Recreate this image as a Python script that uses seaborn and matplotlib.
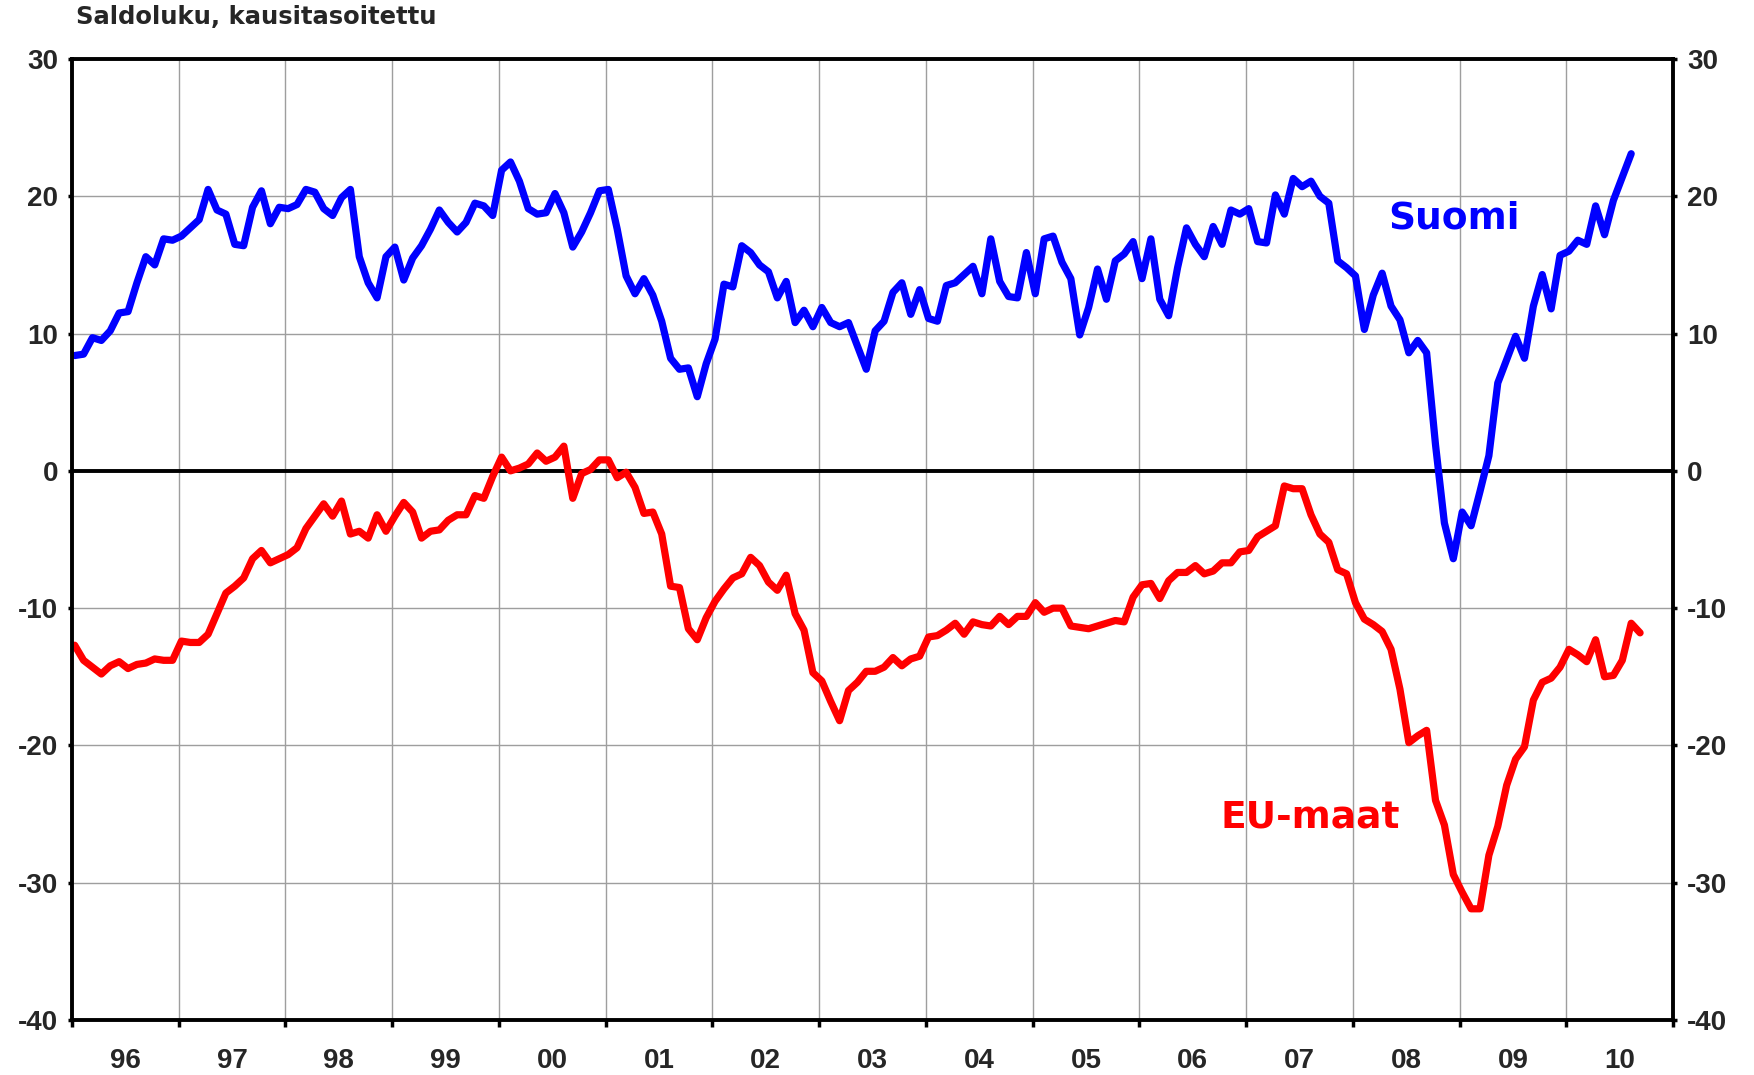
import numpy as np
import pandas as pd
import matplotlib
matplotlib.use("Agg")
from matplotlib import pyplot as plt
from matplotlib.ticker import FixedLocator, NullFormatter
import seaborn as sns

# Monthly balance figures, Jan 1996 onwards
suomi = [
    8.4, 8.5, 9.7, 9.5, 10.2, 11.5, 11.6, 13.7, 15.6, 15.0, 16.9, 16.8,
    17.1, 17.7, 18.3, 20.5, 19.0, 18.7, 16.5, 16.4, 19.2, 20.4, 18.0, 19.2,
    19.1, 19.4, 20.5, 20.3, 19.1, 18.6, 19.9, 20.5, 15.6, 13.7, 12.6, 15.6,
    16.3, 13.9, 15.5, 16.4, 17.6, 19.0, 18.1, 17.4, 18.1, 19.5, 19.3, 18.6,
    21.9, 22.5, 21.1, 19.1, 18.7, 18.8, 20.2, 18.8, 16.3, 17.4, 18.8, 20.4,
    20.5, 17.6, 14.2, 12.9, 14.0, 12.8, 10.9, 8.2, 7.4, 7.5, 5.4, 7.8,
    9.6, 13.6, 13.4, 16.4, 15.9, 15.0, 14.5, 12.6, 13.8, 10.8, 11.7, 10.5,
    11.9, 10.8, 10.5, 10.8, 9.1, 7.4, 10.2, 10.9, 13.0, 13.7, 11.4, 13.2,
    11.1, 10.9, 13.5, 13.7, 14.3, 14.9, 12.9, 16.9, 13.8, 12.7, 12.6, 15.9,
    12.9, 16.9, 17.1, 15.2, 14.0, 9.9, 11.9, 14.7, 12.5, 15.3, 15.8, 16.7,
    14.0, 16.9, 12.5, 11.3, 14.8, 17.7, 16.5, 15.6, 17.8, 16.5, 19.0, 18.7,
    19.1, 16.7, 16.6, 20.1, 18.7, 21.3, 20.7, 21.1, 20.0, 19.5, 15.3, 14.8,
    14.2, 10.3, 12.8, 14.4, 12.0, 11.0, 8.6, 9.5, 8.6, 1.9, -3.8, -6.4,
    -3.0, -4.0, -1.5, 1.1, 6.4, 8.1, 9.8, 8.2, 12.0, 14.3, 11.8, 15.7,
    16.0, 16.8, 16.5, 19.3, 17.2, 19.7, 21.4, 23.1,
]

eu_maat = [
    -12.7, -13.8, -14.3, -14.8, -14.2, -13.9, -14.4, -14.1, -14.0, -13.7, -13.8, -13.8,
    -12.4, -12.5, -12.5, -11.9, -10.4, -8.9, -8.4, -7.8, -6.4, -5.8, -6.7, -6.4,
    -6.1, -5.6, -4.2, -3.3, -2.4, -3.3, -2.2, -4.6, -4.4, -4.9, -3.2, -4.4,
    -3.3, -2.3, -3.0, -4.9, -4.4, -4.3, -3.6, -3.2, -3.2, -1.8, -2.0, -0.4,
    1.0, 0.0, 0.2, 0.5, 1.3, 0.7, 1.0, 1.8, -2.0, -0.2, 0.1, 0.8,
    0.8, -0.5, -0.1, -1.2, -3.1, -3.0, -4.6, -8.4, -8.5, -11.5, -12.3, -10.7,
    -9.5, -8.6, -7.8, -7.5, -6.3, -6.9, -8.1, -8.7, -7.6, -10.4, -11.6, -14.7,
    -15.3, -16.8, -18.2, -16.0, -15.4, -14.6, -14.6, -14.3, -13.6, -14.2, -13.7, -13.5,
    -12.1, -12.0, -11.6, -11.1, -11.9, -11.0, -11.2, -11.3, -10.6, -11.2, -10.6, -10.6,
    -9.6, -10.3, -10.0, -10.0, -11.3, -11.4, -11.5, -11.3, -11.1, -10.9, -11.0, -9.2,
    -8.3, -8.2, -9.3, -8.0, -7.4, -7.4, -6.9, -7.5, -7.3, -6.7, -6.7, -5.9,
    -5.8, -4.8, -4.4, -4.0, -1.1, -1.3, -1.3, -3.2, -4.6, -5.2, -7.2, -7.5,
    -9.6, -10.8, -11.2, -11.7, -13.0, -15.9, -19.8, -19.3, -18.9, -24.0, -25.8, -29.4,
    -30.7, -31.9, -31.9, -28.0, -25.9, -22.9, -21.0, -20.1, -16.7, -15.4, -15.1, -14.3,
    -13.0, -13.4, -13.9, -12.3, -15.0, -14.9, -13.8, -11.1, -11.8,
]

years = list(range(1996, 2011))
year_labels = [f"{y % 100:02d}" for y in years]
y_ticks = [-40, -30, -20, -10, 0, 10, 20, 30]


def to_frame(values):
    # month index -> decimal year (points sit a little after the month start)
    months = np.arange(len(values))
    return pd.DataFrame({"t": 1996 + (months + 0.3) / 12, "v": values})


sns.set_style("white")
plt.rcParams["font.family"] = ["Liberation Sans", "DejaVu Sans"]
plt.rcParams["axes.unicode_minus"] = False

fig = plt.figure(figsize=(17.54, 10.75), dpi=100)
ax = fig.add_axes([72 / 1754, 55 / 1075, 1601 / 1754, 961 / 1075])

grid_kw = dict(color="#9e9e9e", linewidth=1.0, zorder=1)
for y in years[1:]:
    ax.axvline(y, **grid_kw)
for v in [-30, -20, -10, 10, 20]:
    ax.axhline(v, **grid_kw)
ax.axhline(0, color="black", linewidth=2.8, zorder=2)

line_kw = dict(linewidth=5.2, solid_capstyle="round", solid_joinstyle="round", zorder=3)
sns.lineplot(data=to_frame(suomi), x="t", y="v", ax=ax, color="#0000ff", **line_kw)
sns.lineplot(data=to_frame(eu_maat), x="t", y="v", ax=ax, color="#ff0000", **line_kw)

ax.set_xlim(1996, 2011)
ax.set_ylim(-40, 30)
ax.set_xlabel("")
ax.set_ylabel("")

ax.xaxis.set_major_locator(FixedLocator(years + [2011]))
ax.xaxis.set_major_formatter(NullFormatter())
ax.xaxis.set_minor_locator(FixedLocator([y + 0.5 for y in years]))
ax.set_xticklabels(year_labels, minor=True)
ax.tick_params(axis="x", which="major", direction="out", length=5, width=2.5,
               color="black", bottom=True)
ax.tick_params(axis="x", which="minor", length=0, pad=20, labelsize=20)

ax.set_yticks(y_ticks)
ax.set_yticklabels([str(v) for v in y_ticks])
ax.tick_params(axis="y", direction="out", length=3, width=2.5, color="black",
               left=True, right=True, labelleft=True, labelright=True,
               labelsize=20, pad=7)

for lab in ax.get_xticklabels(minor=True):
    lab.set_fontweight("bold")
for t in ax.yaxis.get_major_ticks():
    t.label1.set_fontweight("bold")
    t.label2.set_fontweight("bold")

for side in ["left", "right", "top", "bottom"]:
    ax.spines[side].set_visible(True)
    ax.spines[side].set_color("black")
    ax.spines[side].set_linewidth(2.8)
    ax.spines[side].set_zorder(4)

ax.text(2008.33, 17.65, "Suomi", color="#0000ff", fontsize=27,
        fontweight="bold", family="DejaVu Sans", va="baseline", ha="left")
ax.text(2006.76, -26.0, "EU-maat", color="#ff0000", fontsize=27,
        fontweight="bold", family="DejaVu Sans", va="baseline", ha="left")

fig.text(76 / 1754, 1 - 24.5 / 1075, "Saldoluku, kausitasoitettu", fontsize=17.5,
         fontweight="bold", family="DejaVu Sans", va="baseline", ha="left")

fig.savefig("out.png", dpi=100)
